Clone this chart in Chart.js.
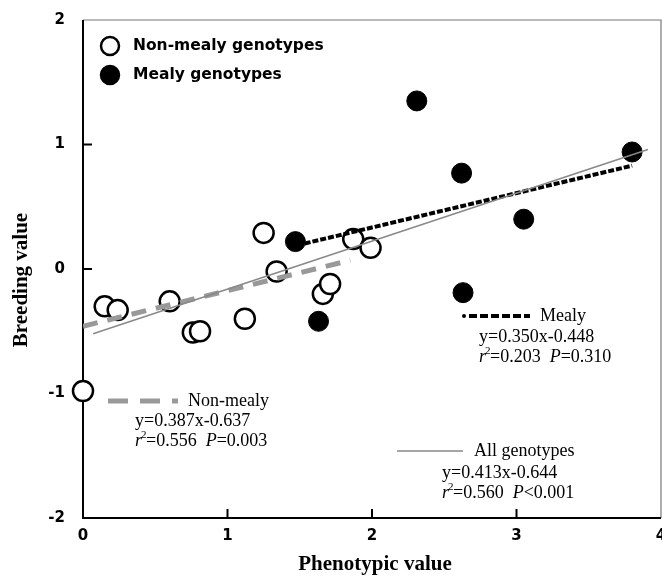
<!DOCTYPE html>
<html>
<head>
<meta charset="utf-8">
<script src="https://cdn.jsdelivr.net/npm/chart.js@4"></script>
<style>
    html, body { margin: 0; padding: 0; background: #fff; }
    #chart-container { width: 662px; height: 576px; position: relative; }
</style>
</head>
<body>
<div id="chart-container"><canvas id="breedingChart"></canvas></div>
<script>
// Phenotypic value (x) and breeding value (y)
const nonMealyX = [0, 0.15, 0.24, 0.60, 0.76, 0.81, 1.12, 1.25, 1.34, 1.66, 1.71, 1.87, 1.99];
const nonMealyY = [-0.98, -0.30, -0.33, -0.26, -0.51, -0.50, -0.40, 0.29, -0.02, -0.20, -0.12, 0.24, 0.17];

const mealyX = [1.47, 1.63, 2.31, 2.62, 2.63, 3.05, 3.80];
const mealyY = [0.22, -0.42, 1.35, 0.77, -0.19, 0.40, 0.94];

// Regression lines as drawn
const mealyFitX = [1.48, 3.80];
const mealyFitY = [0.19, 0.83];
const nonMealyFitX = [0, 1.85];
const nonMealyFitY = [-0.46, 0.07];
const allFitX = [0.07, 3.91];
const allFitY = [-0.52, 0.96];

const xTicks = [0, 1, 2, 3, 4];
const yTicks = [-2, -1, 0, 1, 2];

const legendLabels = ['Non-mealy genotypes', 'Mealy genotypes'];
const fitNotes = [
    { name: 'Mealy', eq: 'y=0.350x-0.448', r2: '0.203', p: 'P=0.310' },
    { name: 'Non-mealy', eq: 'y=0.387x-0.637', r2: '0.556', p: 'P=0.003' },
    { name: 'All genotypes', eq: 'y=0.413x-0.644', r2: '0.560', p: 'P<0.001' }
];

const toPoints = (xs, ys) => xs.map((x, i) => ({ x: x, y: ys[i] }));

const SERIF = '"Liberation Serif", "DejaVu Serif", serif';
const SANS = '"DejaVu Sans", "Liberation Sans", sans-serif';

// Frame, inner ticks, titles, legend and regression notes
const decorPlugin = {
    id: 'decor',
    beforeDatasetsDraw(chart) {
        const { ctx, chartArea: a, scales: { x, y } } = chart;
        ctx.save();
        // grey top and right border
        ctx.strokeStyle = '#777';
        ctx.lineWidth = 1.2;
        ctx.beginPath();
        ctx.moveTo(a.left, a.top);
        ctx.lineTo(a.right, a.top);
        ctx.lineTo(a.right, a.bottom);
        ctx.stroke();
        // black left and bottom axes
        ctx.strokeStyle = '#000';
        ctx.lineWidth = 2;
        ctx.beginPath();
        ctx.moveTo(a.left, a.top);
        ctx.lineTo(a.left, a.bottom);
        ctx.lineTo(a.right, a.bottom);
        ctx.stroke();
        // ticks pointing inwards
        ctx.beginPath();
        xTicks.slice(1, -1).forEach(v => {
            const px = x.getPixelForValue(v);
            ctx.moveTo(px, a.bottom);
            ctx.lineTo(px, a.bottom - 9);
        });
        yTicks.slice(1, -1).forEach(v => {
            const py = y.getPixelForValue(v);
            ctx.moveTo(a.left, py);
            ctx.lineTo(a.left + 9, py);
        });
        ctx.stroke();
        ctx.restore();
    },
    afterDatasetsDraw(chart) {
        const { ctx } = chart;
        ctx.save();
        ctx.fillStyle = '#000';

        // axis titles
        ctx.font = 'bold 21px ' + SERIF;
        ctx.textAlign = 'center';
        ctx.textBaseline = 'middle';
        ctx.fillText('Phenotypic value', 375, 565);
        ctx.save();
        ctx.translate(22, 280);
        ctx.rotate(-Math.PI / 2);
        ctx.fillText('Breeding value', 0, 0);
        ctx.restore();

        // point legend
        ctx.font = 'bold 15.5px ' + SANS;
        ctx.textAlign = 'left';
        const legendY = [46, 75];
        legendLabels.forEach((label, i) => {
            ctx.beginPath();
            ctx.arc(110, legendY[i], 9, 0, Math.PI * 2);
            ctx.lineWidth = 2.5;
            ctx.strokeStyle = '#000';
            ctx.fillStyle = i === 0 ? '#fff' : '#000';
            ctx.fill();
            ctx.stroke();
            ctx.fillStyle = '#000';
            ctx.fillText(label, 133, legendY[i]);
        });

        // regression notes: line sample, name, equation, r2 and P
        const noteBoxes = [
            { lx: [463, 530], ly: 316, nameX: 540, textX: 479, ey: 337, style: 'mealy' },
            { lx: [108, 178], ly: 401, nameX: 188, textX: 135, ey: 421, style: 'nonmealy' },
            { lx: [397, 463], ly: 451, nameX: 474, textX: 442, ey: 473, style: 'all' }
        ];
        noteBoxes.forEach((b, i) => {
            const note = fitNotes[i];
            ctx.beginPath();
            if (b.style === 'mealy') {
                ctx.strokeStyle = '#000';
                ctx.lineWidth = 4;
                ctx.setLineDash([8, 3]);
                ctx.moveTo(b.lx[0] + 6, b.ly);
                ctx.lineTo(b.lx[1], b.ly);
                ctx.stroke();
                ctx.setLineDash([]);
                ctx.beginPath();
                ctx.arc(b.lx[0] + 1, b.ly, 2, 0, Math.PI * 2);
                ctx.fillStyle = '#000';
                ctx.fill();
            } else if (b.style === 'nonmealy') {
                ctx.strokeStyle = '#999';
                ctx.lineWidth = 5;
                ctx.setLineDash([20, 12]);
                ctx.moveTo(b.lx[0], b.ly);
                ctx.lineTo(b.lx[1], b.ly);
                ctx.stroke();
                ctx.setLineDash([]);
            } else {
                ctx.strokeStyle = '#888';
                ctx.lineWidth = 1.5;
                ctx.moveTo(b.lx[0], b.ly);
                ctx.lineTo(b.lx[1], b.ly);
                ctx.stroke();
            }
            ctx.fillStyle = '#000';
            ctx.textAlign = 'left';
            ctx.textBaseline = 'middle';
            ctx.font = '18px ' + SERIF;
            ctx.fillText(note.name, b.nameX, b.ly);
            ctx.fillText(note.eq, b.textX, b.ey);

            // r² line with italic r and P
            const ry = b.ey + 20;
            let cx = b.textX;
            ctx.font = 'italic 18px ' + SERIF;
            ctx.fillText('r', cx, ry);
            cx += ctx.measureText('r').width;
            ctx.font = '11px ' + SERIF;
            ctx.fillText('2', cx - 1, ry - 6);
            cx += 4;
            ctx.font = '18px ' + SERIF;
            const r2Text = '=' + note.r2 + '  ';
            ctx.fillText(r2Text, cx, ry);
            cx += ctx.measureText(r2Text).width;
            ctx.font = 'italic 18px ' + SERIF;
            ctx.fillText('P', cx, ry);
            cx += ctx.measureText('P').width;
            ctx.font = '18px ' + SERIF;
            ctx.fillText(note.p.slice(1), cx, ry);
        });
        ctx.restore();
    }
};

const ctx = document.getElementById('breedingChart').getContext('2d');
new Chart(ctx, {
    type: 'scatter',
    data: {
        datasets: [
            {
                label: 'All genotypes fit',
                data: toPoints(allFitX, allFitY),
                showLine: true,
                borderColor: '#888',
                borderWidth: 1.5,
                pointRadius: 0,
                fill: false
            },
            {
                label: 'Non-mealy fit',
                data: toPoints(nonMealyFitX, nonMealyFitY),
                showLine: true,
                borderColor: '#999',
                borderWidth: 5,
                borderDash: [15, 10],
                pointRadius: 0,
                fill: false
            },
            {
                label: 'Mealy fit',
                data: toPoints(mealyFitX, mealyFitY),
                showLine: true,
                borderColor: '#000',
                borderWidth: 4,
                borderDash: [6, 2],
                pointRadius: 0,
                fill: false
            },
            {
                label: legendLabels[0],
                data: toPoints(nonMealyX, nonMealyY),
                pointRadius: 10,
                pointBackgroundColor: '#fff',
                pointBorderColor: '#000',
                pointBorderWidth: 2.5,
                clip: false
            },
            {
                label: legendLabels[1],
                data: toPoints(mealyX, mealyY),
                pointRadius: 10,
                pointBackgroundColor: '#000',
                pointBorderColor: '#000',
                pointBorderWidth: 1,
                clip: false
            }
        ]
    },
    options: {
        responsive: true,
        maintainAspectRatio: false,
        animation: false,
        layout: {
            autoPadding: false,
            padding: { top: 20, right: 1, left: 0, bottom: 0 }
        },
        plugins: {
            legend: { display: false },
            tooltip: { enabled: false }
        },
        scales: {
            x: {
                type: 'linear',
                min: 0,
                max: 4,
                afterFit: s => {
                    s.height = 58;
                    s.paddingLeft = 0;
                    s.paddingRight = 0;
                },
                afterBuildTicks: s => { s.ticks = xTicks.map(v => ({ value: v })); },
                grid: { display: false, drawTicks: false },
                border: { display: false },
                ticks: {
                    padding: 9,
                    color: '#000',
                    font: { family: SANS, size: 15, weight: 'bold' }
                }
            },
            y: {
                type: 'linear',
                min: -2,
                max: 2,
                afterFit: s => {
                    s.width = 83;
                    s.paddingTop = 0;
                    s.paddingBottom = 0;
                },
                afterBuildTicks: s => { s.ticks = yTicks.map(v => ({ value: v })); },
                grid: { display: false, drawTicks: false },
                border: { display: false },
                ticks: {
                    padding: 18,
                    color: '#000',
                    font: { family: SANS, size: 15, weight: 'bold' }
                }
            }
        }
    },
    plugins: [decorPlugin]
});
</script>
</body>
</html>
